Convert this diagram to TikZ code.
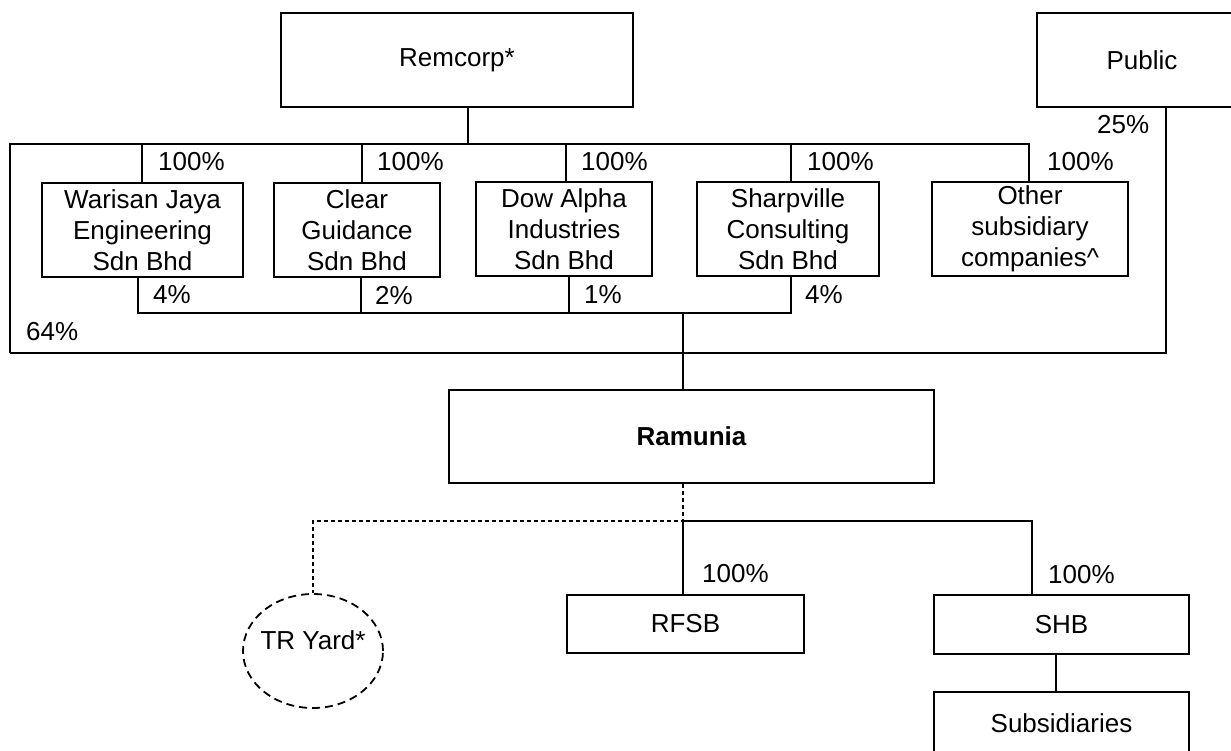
\documentclass[tikz,border=0pt]{standalone}
\usepackage{fontspec}
\setmainfont{Liberation Sans}
\usetikzlibrary{shapes.geometric}
\begin{document}
\begin{tikzpicture}[x=1pt,y=-1pt,
  every node/.style={font=\fontsize{26}{31}\selectfont},
  box/.style={draw,line width=1.6pt,minimum height=94pt,inner sep=0pt,align=center},
  pct/.style={anchor=west,inner sep=0pt},
  conn/.style={line width=1.6pt},
  dconn/.style={line width=1.3pt,dash pattern=on 4pt off 3pt},
]
\useasboundingbox (0,0) rectangle (1231,750);
% boxes
\node[box,minimum width=352pt] (remcorp) at (457,60) {Remcorp*};
\node[box,minimum width=210pt] (public) at (1142,60) {Public};
\node[box,minimum width=201pt] (warisan) at (142.5,230) {Warisan Jaya\\Engineering\\Sdn Bhd};
\node[box,minimum width=166pt] (clear) at (357,230) {Clear\\Guidance\\Sdn Bhd};
\node[box,minimum width=176pt] (dow) at (564,229) {Dow Alpha\\Industries\\Sdn Bhd};
\node[box,minimum width=182pt] (sharp) at (788,229) {Sharpville\\Consulting\\Sdn Bhd};
\node[box,minimum width=196pt] (other) at (1030,229) {Other\\subsidiary\\companies\^{}};
\node[box,minimum width=485pt,minimum height=93pt] (ramunia) at (691.5,436.5) {\bfseries Ramunia};
\node[box,minimum width=237pt,minimum height=58pt] (rfsb) at (685.5,624) {RFSB};
\node[box,minimum width=255pt,minimum height=59pt] (shb) at (1061.5,624.5) {SHB};
\node[box,minimum width=255pt,minimum height=62pt] (subs) at (1061.5,723) {Subsidiaries};
\node[draw,ellipse,line width=1.8pt,dash pattern=on 8pt off 5pt,minimum width=140pt,minimum height=114pt,inner sep=0pt] (tr) at (313,651) {};
\node (trtext) at ([yshift=11pt]tr.center) {TR Yard*};
% junction coordinates
\coordinate (tL) at (10,144);
\coordinate (tR) at (468,144);
\coordinate (t1) at (142,144);
\coordinate (t2) at (362,144);
\coordinate (t3) at (566,144);
\coordinate (t4) at (791,144);
\coordinate (t5) at (1029,144);
\coordinate (b1) at (138,313);
\coordinate (b2) at (361,313);
\coordinate (b3) at (569,313);
\coordinate (b4) at (791,313);
\coordinate (bR) at (683,313);
\coordinate (oL) at (10,353);
\coordinate (oR) at (1166,353);
\coordinate (jR) at (683,521);
\coordinate (jT) at (313,521);
\coordinate (jS) at (1032,521);
% top bus
\draw[conn] (tR |- remcorp.south) -- (tR);
\draw[conn] (oL) -- (tL) -- (t5) -- (t5 |- other.north);
\draw[conn] (t1) -- (t1 |- warisan.north);
\draw[conn] (t2) -- (t2 |- clear.north);
\draw[conn] (t3) -- (t3 |- dow.north);
\draw[conn] (t4) -- (t4 |- sharp.north);
% bottom bus
\draw[conn] (b1 |- warisan.south) -- (b1) -- (b4) -- (b4 |- sharp.south);
\draw[conn] (b2 |- clear.south) -- (b2);
\draw[conn] (b3 |- dow.south) -- (b3);
\draw[conn] (bR) -- (bR |- ramunia.north);
% outer loop to public
\draw[conn] (oL) -- (oR) -- (oR |- public.south);
% below Ramunia
\draw[dconn] (jR |- ramunia.south) -- (jR) -- (jT) -- (tr.north);
\draw[conn] (jR) -- (jR |- rfsb.north);
\draw[conn] (jR) -- (jS) -- (jS |- shb.north);
\draw[conn] (shb.south -| 1056,0) -- (subs.north -| 1056,0);
% percentages
\node[pct] (p1) at (158,162) {100\%};
\node[pct] (p2) at (377,162) {100\%};
\node[pct] (p3) at (581,162) {100\%};
\node[pct] (p4) at (807,162) {100\%};
\node[pct] (p5) at (1047,162) {100\%};
\node[pct] (q1) at (153,295) {4\%};
\node[pct] (q2) at (375,295) {2\%};
\node[pct] (q3) at (584,295) {1\%};
\node[pct] (q4) at (805,295) {4\%};
\node[pct] (q5) at (26,332) {64\%};
\node[pct] (q6) at (1097,125) {25\%};
\node[pct] (r1) at (702,574) {100\%};
\node[pct] (r2) at (1048,575) {100\%};
\end{tikzpicture}
\end{document}
